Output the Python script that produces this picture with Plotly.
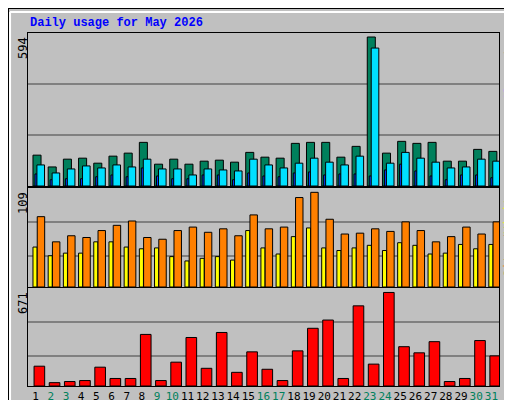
import plotly.graph_objects as go
from plotly.subplots import make_subplots

days = list(range(1, 32))
weekend = [2, 3, 9, 10, 16, 17, 23, 24, 30, 31]

hits = [123, 76, 107, 111, 91, 119, 131, 174, 87, 107, 87, 99, 103, 95, 134, 115,
        111, 170, 174, 174, 115, 158, 594, 131, 178, 170, 174, 99, 99, 146, 138]
files = [84, 52, 68, 80, 72, 84, 76, 107, 68, 68, 44, 68, 64, 60, 107, 84,
         72, 91, 111, 95, 84, 119, 550, 91, 134, 111, 95, 72, 76, 107, 99]
pages = [48, 25, 29, 29, 37, 44, 37, 72, 40, 29, 29, 44, 44, 25, 52, 40,
         37, 52, 56, 44, 48, 48, 40, 64, 87, 60, 40, 25, 44, 44, 33]
visits = [81, 52, 59, 57, 65, 71, 76, 57, 55, 65, 69, 63, 67, 59, 83, 67,
          69, 103, 109, 78, 61, 62, 67, 64, 75, 65, 52, 58, 69, 61, 75]
sites = [46, 36, 39, 39, 52, 52, 46, 44, 45, 35, 30, 33, 35, 31, 65, 45,
         38, 58, 68, 45, 42, 45, 48, 42, 51, 48, 38, 39, 49, 44, 49]
kbytes = [142, 24, 32, 39, 135, 54, 54, 370, 39, 171, 348, 127, 384, 98, 245, 120,
          39, 252, 414, 473, 54, 575, 157, 671, 282, 238, 318, 32, 54, 326, 216]

GREEN = "#00805C"
CYAN = "#00E0FF"
BLUE = "#0040FF"
ORANGE = "#FF8000"
YELLOW = "#FFFF00"
RED = "#FF0000"
BG = "#C0C0C0"

fig = make_subplots(rows=3, cols=1, shared_xaxes=True)

line = dict(color="black", width=1)
fig.add_trace(go.Bar(x=days, y=hits, width=0.53, offset=-0.17, marker=dict(color=GREEN, line=line)), 1, 1)
fig.add_trace(go.Bar(x=days, y=pages, width=0.15, offset=-0.04, marker=dict(color=BLUE, line=line)), 1, 1)
fig.add_trace(go.Bar(x=days, y=files, width=0.5, offset=0.09, marker=dict(color=CYAN, line=line)), 1, 1)
fig.add_trace(go.Bar(x=days, y=sites, width=0.27, offset=-0.17, marker=dict(color=YELLOW, line=line)), 2, 1)
fig.add_trace(go.Bar(x=days, y=visits, width=0.49, offset=0.11, marker=dict(color=ORANGE, line=line)), 2, 1)
fig.add_trace(go.Bar(x=days, y=kbytes, width=0.7, offset=-0.1, marker=dict(color=RED, line=line)), 3, 1)

ticktext = [f"<span style='color:{GREEN}'>{d}</span>" if d in weekend else str(d) for d in days]

fig.update_layout(
    width=512, height=400, margin=dict(l=0, r=0, t=0, b=0, autoexpand=False),
    paper_bgcolor=BG, plot_bgcolor=BG, showlegend=False, barmode="overlay",
    font=dict(family="DejaVu Sans Mono", size=11, color="black"),
)
dom = [0.039, 0.959]
axx = dict(range=[0.5, 31.5], domain=dom, showgrid=False, zeroline=False, automargin=False,
           showline=True, linecolor="black", mirror=True, fixedrange=True)
fig.update_xaxes(**axx, showticklabels=False, ticks="")
fig.update_xaxes(showticklabels=True, tickvals=days, ticktext=ticktext, ticklen=0, tickangle=0,
                 tickfont=dict(size=11, family="DejaVu Sans Mono"), row=3, col=1)

axy = dict(showline=True, linecolor="black", mirror=True, zeroline=False, automargin=False,
           showticklabels=False, gridcolor="#808080", gridwidth=1.5)
fig.update_yaxes(**axy, range=[0, 610], tickvals=[203, 407], domain=[0.555, 0.9375], row=1, col=1)
fig.update_yaxes(**axy, range=[0, 114], tickvals=[36, 75], domain=[0.3025, 0.55], row=2, col=1)
fig.update_yaxes(**axy, range=[0, 703], tickvals=[216, 458], domain=[0.055, 0.30], row=3, col=1)

fig.add_annotation(text="<b>Daily usage for May 2026</b>", x=20 / 512, y=1 - 15 / 400,
                   xref="paper", yref="paper", xanchor="left", yanchor="middle", showarrow=False,
                   font=dict(family="Liberation Mono", size=12, color="#0000FF"))
for label, ytop in [(max(hits), 0.9375), (max(visits), 0.55), (max(kbytes), 0.30)]:
    fig.add_annotation(text=str(label), x=0.0, y=ytop - 0.005, xref="paper", yref="paper",
                       xanchor="left", yanchor="top", textangle=-90, showarrow=False,
                       font=dict(size=12), xshift=6)

legends = [
    (f"<span style='color:{CYAN}'>Pages</span>/<span style='color:{BLUE}'>Files</span>/"
     f"<span style='color:{GREEN}'>Hits</span>", 0.9375),
    (f"<span style='color:{ORANGE}'>Sites</span>/<span style='color:{YELLOW}'>Visits</span>", 0.55),
    (f"<span style='color:{RED}'>KBytes</span>", 0.30),
]
for text, ytop in legends:
    fig.add_annotation(text=text, x=0.962, y=ytop, xref="paper", yref="paper",
                       xanchor="left", yanchor="top", textangle=-90, showarrow=False,
                       font=dict(size=12))

# bevelled frame
fig.add_shape(type="rect", xref="paper", yref="paper", x0=0, y0=0, x1=1, y1=1,
              line=dict(color="black", width=2))
fig.add_shape(type="line", xref="paper", yref="paper", x0=0.004, y0=0.99, x1=0.996, y1=0.99,
              line=dict(color="white", width=2))
fig.add_shape(type="line", xref="paper", yref="paper", x0=0.004, y0=0.005, x1=0.004, y1=0.99,
              line=dict(color="white", width=2))
fig.add_shape(type="line", xref="paper", yref="paper", x0=0.004, y0=0.01, x1=0.993, y1=0.01,
              line=dict(color="#808080", width=3))
fig.add_shape(type="line", xref="paper", yref="paper", x0=0.993, y0=0.01, x1=0.993, y1=0.99,
              line=dict(color="#808080", width=3))

fig.write_html("out.html")
